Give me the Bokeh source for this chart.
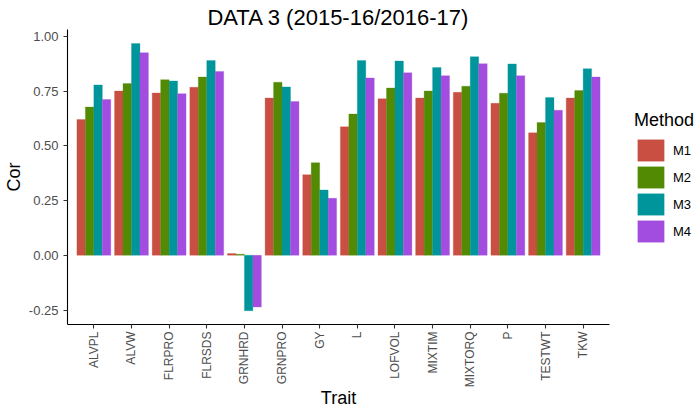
import math
from bokeh.plotting import figure
from bokeh.models import (FactorRange, Range1d, FixedTicker, NumeralTickFormatter,
                          Legend, LegendItem, ColumnDataSource)
from bokeh.transform import dodge
from bokeh.embed import file_html
from bokeh.resources import INLINE

traits = ["ALVPL", "ALVW", "FLRPRO", "FLRSDS", "GRNHRD", "GRNPRO", "GY", "L",
          "LOFVOL", "MIXTIM", "MIXTORQ", "P", "TESTWT", "TKW"]
methods = ["M1", "M2", "M3", "M4"]
m1 = [0.620, 0.750, 0.741, 0.767, 0.008, 0.718, 0.368, 0.587, 0.715, 0.718, 0.744, 0.694, 0.559, 0.718]
m2 = [0.677, 0.784, 0.802, 0.814, 0.005, 0.790, 0.423, 0.645, 0.764, 0.750, 0.772, 0.740, 0.606, 0.752]
m3 = [0.778, 0.967, 0.796, 0.889, -0.253, 0.769, 0.298, 0.889, 0.887, 0.857, 0.907, 0.874, 0.720, 0.852]
m4 = [0.711, 0.925, 0.738, 0.839, -0.236, 0.702, 0.260, 0.810, 0.833, 0.820, 0.875, 0.820, 0.662, 0.814]
colors = ["#C94F42", "#528A04", "#00959B", "#A24DDF"]
y_ticks = [-0.25, 0.0, 0.25, 0.50, 0.75, 1.00]

FONT = "Liberation Sans"

src = ColumnDataSource(dict(trait=traits, M1=m1, M2=m2, M3=m3, M4=m4))

p = figure(x_range=FactorRange(factors=traits, range_padding=0.2, range_padding_units="absolute"),
           y_range=Range1d(-0.316, 1.031),
           frame_width=542, frame_height=295, output_backend="svg", toolbar_location=None,
           min_border_left=59, min_border_right=0, min_border_top=29, min_border_bottom=0,
           title="DATA 3 (2015-16/2016-17)")

p.title.align = "center"
p.title.text_font = FONT
p.title.text_font_size = "22px"
p.title.text_font_style = "normal"
p.title.text_color = "black"
p.title.standoff = 0

bw = 0.9 / len(methods)
offsets = [(-0.45 + bw / 2) + i * bw for i in range(len(methods))]
renderers = []
for i, m in enumerate(methods):
    r = p.vbar(x=dodge("trait", offsets[i], range=p.x_range), top=m, bottom=0, width=bw,
               source=src, fill_color=colors[i], line_color=colors[i], line_width=0.3)
    renderers.append(r)

p.xgrid.visible = False
p.ygrid.visible = False
p.outline_line_color = None
p.background_fill_color = "white"
p.border_fill_color = "white"

for ax in (p.xaxis[0], p.yaxis[0]):
    ax.axis_line_color = "black"
    ax.axis_line_width = 1.1
    ax.major_tick_line_color = "#333333"
    ax.major_tick_line_width = 1.1
    ax.major_tick_out = 4
    ax.major_tick_in = 0
    ax.minor_tick_line_color = None
    ax.major_label_text_font = FONT
    ax.major_label_text_color = "#4D4D4D"
    ax.axis_label_text_font = FONT
    ax.axis_label_text_font_style = "normal"
    ax.axis_label_text_font_size = "18px"
    ax.axis_label_text_color = "black"

p.yaxis.ticker = FixedTicker(ticks=y_ticks)
p.yaxis.formatter = NumeralTickFormatter(format="0.00")
p.yaxis.major_label_text_font_size = "13px"
p.yaxis.major_label_standoff = 5
p.yaxis.axis_label = "Cor"
p.yaxis.axis_label_standoff = 2

p.xaxis.major_label_orientation = math.pi / 2
p.xaxis.major_label_text_font_size = "12px"
p.xaxis.major_label_standoff = 3
p.xaxis.axis_label = "Trait"
p.xaxis.axis_label_standoff = -2

legend = Legend(items=[LegendItem(label=m, renderers=[renderers[i]]) for i, m in enumerate(methods)],
                title="Method", location="center_left", margin=25, padding=0,
                glyph_width=33, glyph_height=27, spacing=0, label_standoff=6,
                label_text_font=FONT, label_text_font_size="13px", label_text_color="black",
                title_text_font=FONT, title_text_font_size="18px", title_text_font_style="normal",
                title_text_color="black", title_standoff=6,
                border_line_color=None, background_fill_alpha=0)
p.add_layout(legend, "right")

open("out.html", "w").write(file_html(p, INLINE))
